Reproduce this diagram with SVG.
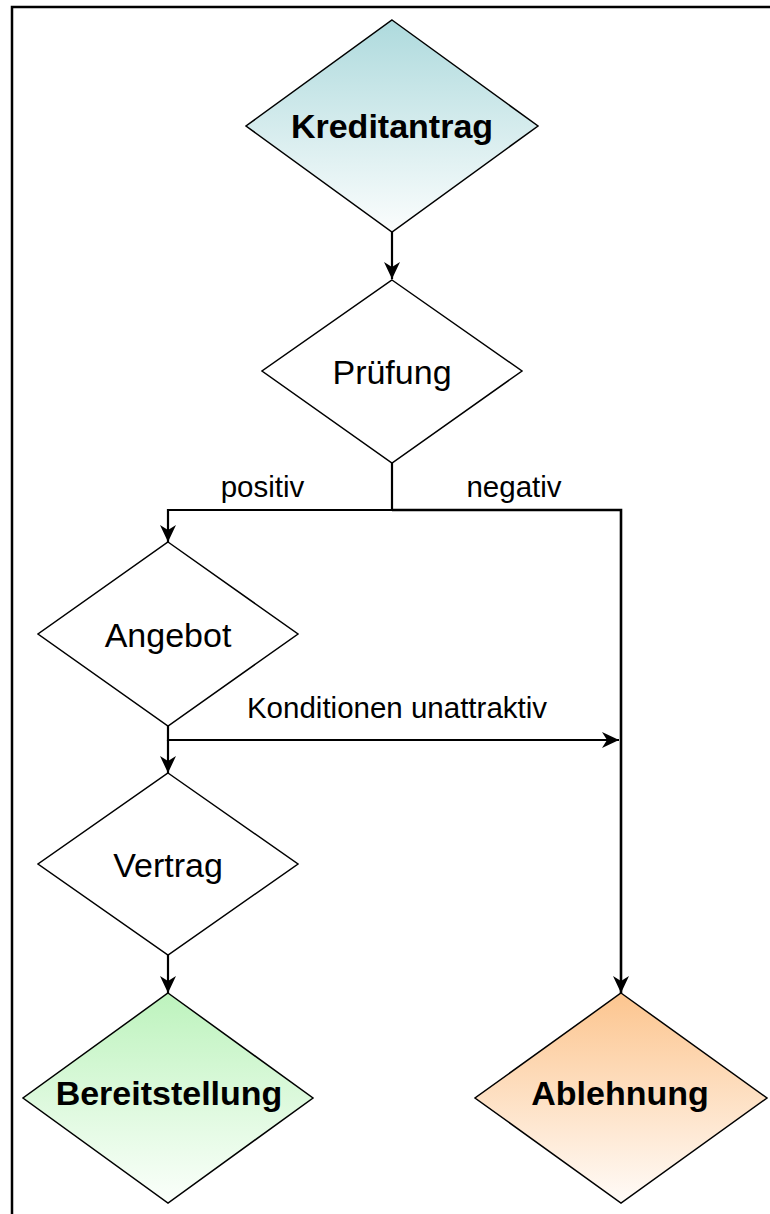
<svg xmlns="http://www.w3.org/2000/svg" width="770" height="1214" viewBox="0 0 770 1214">
<style>
.shape{stroke:#000;stroke-width:1.5;stroke-linejoin:miter}
.plain{fill:#fff}
.conn{fill:none;stroke:#000;stroke-width:2.2}
.lbl{font-family:"Liberation Sans",Arial,sans-serif;font-size:34px;fill:#000;text-anchor:middle}
.bold{font-weight:bold}
.elbl{font-family:"Liberation Sans",Arial,sans-serif;font-size:29.5px;fill:#000;text-anchor:middle}
</style>
<defs>
<linearGradient id="gTeal" x1="0" y1="0" x2="0" y2="1">
<stop offset="0" stop-color="#aedadd"/>
<stop offset="1" stop-color="#fbfdfd"/>
</linearGradient>
<linearGradient id="gGreen" x1="0" y1="0" x2="0" y2="1">
<stop offset="0" stop-color="#bdf3bd"/>
<stop offset="1" stop-color="#fbfffb"/>
</linearGradient>
<linearGradient id="gOrange" x1="0" y1="0" x2="0" y2="1">
<stop offset="0" stop-color="#fcc58f"/>
<stop offset="1" stop-color="#fffbf8"/>
</linearGradient>
<marker id="arr" viewBox="0 0 17 16" refX="17" refY="8" markerWidth="17" markerHeight="16" markerUnits="userSpaceOnUse" orient="auto">
<path d="M0,0 L17,8 L0,16 L5,8 Z" fill="#000"/>
</marker>
</defs>
<rect x="12" y="7" width="800" height="1300" fill="#fff" stroke="#000" stroke-width="2.5"/>
<g id="connectors">
<path class="conn" d="M392,232 L392,279" marker-end="url(#arr)"/>
<path class="conn" d="M392,463 L392,510 L168,510 L168,542" marker-end="url(#arr)"/>
<path class="conn" d="M392,510 L621,510 L621,993" marker-end="url(#arr)" style="stroke-width:2.6"/>
<path class="conn" d="M168,726 L168,740 L619,740" marker-end="url(#arr)"/>
<path class="conn" d="M168,740 L168,773" marker-end="url(#arr)"/>
<path class="conn" d="M168,955 L168,993" marker-end="url(#arr)"/>
<text class="elbl" x="262.5" y="497">positiv</text>
<text class="elbl" x="514" y="497">negativ</text>
<text class="elbl" x="397" y="718">Konditionen unattraktiv</text>
</g>
<g id="kreditantrag">
<polygon class="shape" fill="url(#gTeal)" points="392,20 538,126 392,232 246,126"/>
<text class="lbl bold" x="392" y="138">Kreditantrag</text>
</g>
<g id="pruefung">
<polygon class="shape plain" points="392,280 522,371 392,463 262,371"/>
<text class="lbl" x="392" y="384">Prüfung</text>
</g>
<g id="angebot">
<polygon class="shape plain" points="168,542 298,634 168,726 38,634"/>
<text class="lbl" x="168" y="647">Angebot</text>
</g>
<g id="vertrag">
<polygon class="shape plain" points="168,773 298,864 168,955 38,864"/>
<text class="lbl" x="168" y="877">Vertrag</text>
</g>
<g id="bereitstellung">
<polygon class="shape" fill="url(#gGreen)" points="168,993 313,1098 168,1203 23,1098"/>
<text class="lbl bold" x="169" y="1105">Bereitstellung</text>
</g>
<g id="ablehnung">
<polygon class="shape" fill="url(#gOrange)" points="621,993 767,1098 621,1203 475,1098"/>
<text class="lbl bold" x="620" y="1105">Ablehnung</text>
</g>
</svg>
